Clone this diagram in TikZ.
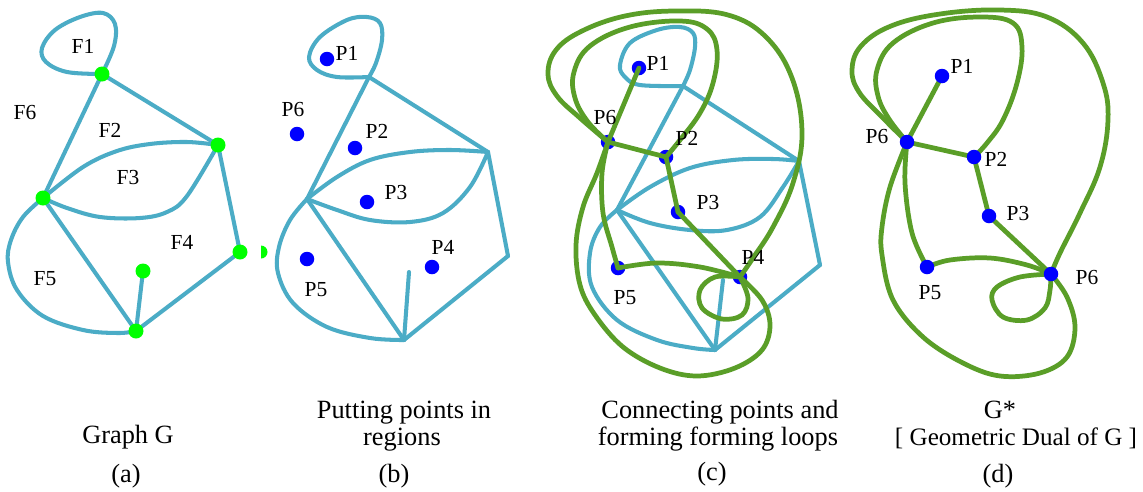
\documentclass[tikz,border=0pt]{standalone}
\usepackage{fontspec}
\setmainfont{Liberation Serif}
\newfontfamily\figserif{Liberation Serif}
\definecolor{edgeblue}{HTML}{4BACC6}
\definecolor{dualgreen}{RGB}{90,158,40}
\definecolor{vgreen}{RGB}{0,255,0}
\definecolor{dotblue}{RGB}{0,0,255}
\begin{document}
\begin{tikzpicture}[x=0.02cm,y=-0.02cm,
  gedge/.style={draw=edgeblue, line width=2.3pt, line join=round, line cap=round},
  dedge/.style={draw=dualgreen, line width=2.7pt, line join=round, line cap=round},
  gv/.style={circle, fill=vgreen, inner sep=0pt, minimum size=0.3cm},
  bv/.style={circle, fill=dotblue, inner sep=0pt, minimum size=0.29cm},
  lbl/.style={font=\figserif\fontsize{12.2}{14}\selectfont, inner sep=0pt},
  captext/.style={font=\figserif\fontsize{15}{17}\selectfont, inner sep=0pt, anchor=base}]
\useasboundingbox[fill=white] (0,0) rectangle (1143,491);

% ================= (a) =================
\coordinate (A1) at (102,74);
\coordinate (A2) at (218,145);
\coordinate (A3) at (43,198);
\coordinate (A4) at (240,252);
\coordinate (A5) at (136,331);
\coordinate (A6) at (143,271);
\draw[gedge] plot[smooth, tension=0.6] coordinates {(A1) (67,72) (46,62) (42,48) (55,30) (80,17) (103,13) (115,24) (114,46) (A1)};
\draw[gedge] (A1) -- (A2);
\draw[gedge] (A1) -- (A3);
\draw[gedge] plot[smooth, tension=0.6] coordinates {(A3) (83,167) (117,151) (150,144) (187,142) (A2)};
\draw[gedge] plot[smooth, tension=0.6] coordinates {(A3) (67,208) (100,217) (140,218) (167,212) (187,196) (A2)};
\draw[gedge] (A2) -- (A4);
\draw[gedge] (A4) -- (A5);
\draw[gedge] (A3) -- (A5);
\draw[gedge] (A5) -- (A6);
\draw[gedge] plot[smooth, tension=0.6] coordinates {(A3) (23,217) (11,240) (8,262) (17,290) (43,316) (83,330) (118,333) (A5)};
\node[gv] (a1) at (A1) {};
\node[gv] (a2) at (A2) {};
\node[gv] (a3) at (A3) {};
\node[gv] (a4) at (A4) {};
\node[gv] (a5) at (A5) {};
\node[gv] (a6) at (A6) {};
\fill[vgreen] (261,245.5) arc[start angle=90, end angle=-90, radius=0.13cm] -- cycle;
\node[lbl] (f1) at (83,46) {F1};
\node[lbl] (f6) at (25,113) {F6};
\node[lbl] (f2) at (110,130) {F2};
\node[lbl] (f3) at (128,178) {F3};
\node[lbl] (f4) at (182,242) {F4};
\node[lbl] (f5) at (45,279) {F5};

% ================= (b) =================
\coordinate (B1) at (369,77);
\coordinate (B2) at (488,152);
\coordinate (B3) at (307,199);
\coordinate (B4) at (508,256);
\coordinate (B5) at (404,340);
\coordinate (B6) at (409,272);
\draw[gedge] plot[smooth, tension=0.6] coordinates {(B1) (337,77) (317,70) (309,57) (320,37) (347,20) (367,17) (380,23) (382,40) (376,63) (B1)};
\draw[gedge] (B1) -- (B2);
\draw[gedge] (B1) -- (B3);
\draw[gedge] plot[smooth, tension=0.6] coordinates {(B3) (337,177) (370,160) (410,152) (450,150) (B2)};
\draw[gedge] plot[smooth, tension=0.6] coordinates {(B3) (337,210) (370,220) (410,222) (443,213) (470,187) (B2)};
\draw[gedge] (B2) -- (B4);
\draw[gedge] (B4) -- (B5);
\draw[gedge] (B3) -- (B5);
\draw[gedge] (B5) -- (B6);
\draw[gedge] plot[smooth, tension=0.6] coordinates {(B3) (290,220) (279,247) (278,273) (293,303) (327,327) (370,338) (B5)};
\node[bv] (bp1) at (327,59) {};
\node[bv] (bp6) at (297,134) {};
\node[bv] (bp2) at (355,148) {};
\node[bv] (bp3) at (367,202) {};
\node[bv] (bp4) at (432,267) {};
\node[bv] (bp5) at (307,259) {};
\node[lbl] (bl1) at (347,53) {P1};
\node[lbl] (bl6) at (293,110) {P6};
\node[lbl] (bl2) at (377,131) {P2};
\node[lbl] (bl3) at (396,193) {P3};
\node[lbl] (bl4) at (443,247) {P4};
\node[lbl] (bl5) at (316,290) {P5};

% ================= (c) =================
\coordinate (C1) at (683,86);
\coordinate (C2) at (799,161);
\coordinate (C3) at (617,210);
\coordinate (C4) at (820,265);
\coordinate (C5) at (715,350);
\coordinate (C6) at (723,280);
\draw[gedge] plot[smooth, tension=0.6] coordinates {(C1) (640,85) (625,77) (620,65) (630,43) (657,30) (680,27) (693,33) (695,47) (690,70) (C1)};
\draw[gedge] (C1) -- (C2);
\draw[gedge] (C1) -- (C3);
\draw[gedge] plot[smooth, tension=0.6] coordinates {(C3) (650,187) (690,168) (733,160) (773,159) (C2)};
\draw[gedge] plot[smooth, tension=0.6] coordinates {(C3) (650,223) (690,230) (727,230) (760,217) (783,187) (C2)};
\draw[gedge] (C2) -- (C4);
\draw[gedge] (C4) -- (C5);
\draw[gedge] (C3) -- (C5);
\draw[gedge] (C5) -- (C6);
\draw[gedge] plot[smooth, tension=0.6] coordinates {(C3) (600,227) (590,253) (592,287) (617,320) (657,340) (693,348) (C5)};
\coordinate (Q1) at (639,68);
\coordinate (Q6) at (608,142);
\coordinate (Q2) at (666,157);
\coordinate (Q3) at (678,212);
\coordinate (Q4) at (740,277);
\coordinate (Q5) at (618,268);
\node[bv] (cp1) at (Q1) {};
\node[bv] (cp6) at (Q6) {};
\node[bv] (cp2) at (Q2) {};
\node[bv] (cp3) at (Q3) {};
\node[bv] (cp4) at (Q4) {};
\node[bv] (cp5) at (Q5) {};
\draw[dedge] (Q6) -- (Q1);
\draw[dedge] (Q6) -- (Q2);
\draw[dedge] (Q2) -- (Q3);
\draw[dedge] (Q3) -- (Q4);
\draw[dedge] plot[smooth, tension=0.6] coordinates {(Q6) (602,173) (603,213) (612,247) (Q5)};
\draw[dedge] plot[smooth, tension=0.6] coordinates {(Q5) (657,263) (700,267) (Q4)};
\draw[dedge] plot[smooth, tension=0.6] coordinates {(Q4) (715,277) (700,290) (702,308) (722,319) (742,315) (748,298) (Q4)};
\draw[dedge] plot[smooth, tension=0.65] coordinates {(Q6) (580,118) (557,96) (548,74) (556,50) (582,31) (625,16) (675,11) (728,15) (766,37) (792,78) (802,133) (793,183) (773,227) (753,258) (Q4)};
\draw[dedge] plot[smooth, tension=0.65] coordinates {(Q6) (588,122) (575,98) (574,72) (590,46) (630,27) (680,21) (707,29) (717,50) (713,83) (700,113) (680,140) (Q2)};
\draw[dedge] plot[smooth, tension=0.6] coordinates {(Q6) (597,173) (583,207) (576,245) (580,285) (595,315) (623,347) (660,368) (697,376) (735,368) (762,350) (770,325) (762,300) (Q4)};
\node[lbl] (cl1) at (658,63) {P1};
\node[lbl] (cl6) at (605,118) {P6};
\node[lbl] (cl2) at (687,138) {P2};
\node[lbl] (cl3) at (708,203) {P3};
\node[lbl] (cl4) at (753,257) {P4};
\node[lbl] (cl5) at (625,298) {P5};

% ================= (d) =================
\coordinate (D1) at (942,76);
\coordinate (D6) at (907,142);
\coordinate (D2) at (974,157);
\coordinate (D3) at (989,216);
\coordinate (D5) at (927,267);
\coordinate (D7) at (1051,274);
\draw[dedge] (D6) -- (D1);
\draw[dedge] (D6) -- (D2);
\draw[dedge] (D2) -- (D3);
\draw[dedge] (D3) -- (D7);
\draw[dedge] plot[smooth, tension=0.6] coordinates {(D6) (905,183) (912,233) (D5)};
\draw[dedge] plot[smooth, tension=0.6] coordinates {(D5) (950,260) (990,258) (1027,265) (D7)};
\draw[dedge] plot[smooth, tension=0.6] coordinates {(D7) (1020,277) (997,287) (992,300) (1003,317) (1027,320) (1045,308) (1050,290) (D7)};
\draw[dedge] plot[smooth, tension=0.65] coordinates {(D6) (881,116) (859,92) (852,70) (861,46) (891,26) (940,14) (1000,10) (1047,17) (1083,43) (1103,83) (1108,120) (1100,167) (1080,213) (1060,253) (D7)};
\draw[dedge] plot[smooth, tension=0.65] coordinates {(D6) (889,119) (878,96) (877,70) (893,43) (933,23) (980,17) (1013,23) (1022,47) (1017,83) (1003,120) (987,143) (D2)};
\draw[dedge] plot[smooth, tension=0.6] coordinates {(D6) (890,187) (882,227) (882,255) (893,300) (923,337) (963,363) (1000,376) (1040,373) (1067,357) (1075,327) (1067,297) (D7)};
\node[bv] (dp1) at (D1) {};
\node[bv] (dp6) at (D6) {};
\node[bv] (dp2) at (D2) {};
\node[bv] (dp3) at (D3) {};
\node[bv] (dp5) at (D5) {};
\node[bv] (dp7) at (D7) {};
\node[lbl] (dl1) at (962,66) {P1};
\node[lbl] (dl6) at (877,137) {P6};
\node[lbl] (dl2) at (996,159) {P2};
\node[lbl] (dl3) at (1018,214) {P3};
\node[lbl] (dl5) at (930,293) {P5};
\node[lbl] (dl7) at (1087,278) {P6};

% ================= captions =================
\node[captext] (ca1) at (128,443) {Graph G};
\node[captext] (ca2) at (126,482) {(a)};
\node[captext] (cb1) at (404,418) {Putting points in};
\node[captext] (cb2) at (402,445) {regions};
\node[captext] (cb3) at (394,482) {(b)};
\node[captext] (cc1) at (720,418) {Connecting points and};
\node[captext] (cc2) at (718,445) {forming forming loops};
\node[captext] (cc3) at (712,480) {(c)};
\node[captext] (cd1) at (1000,418) {G*};
\node[captext, font=\figserif\fontsize{14.3}{17}\selectfont] (cd2) at (1016,445) {[ Geometric Dual of G ]};
\node[captext] (cd3) at (998,482) {(d)};
\end{tikzpicture}
\end{document}
